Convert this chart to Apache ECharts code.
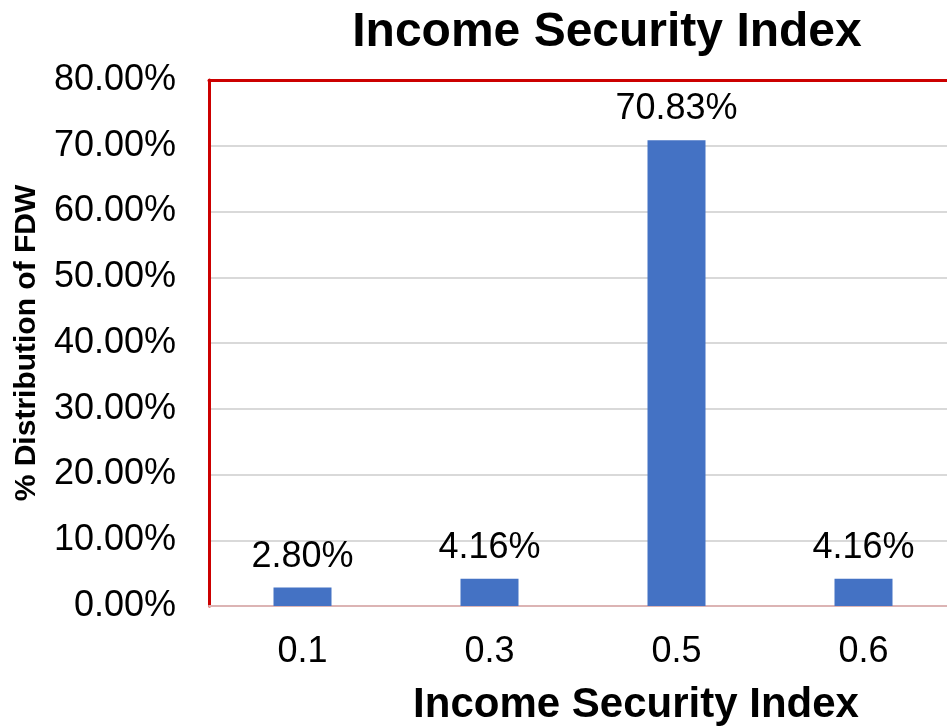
<!DOCTYPE html>
<html><head><meta charset="utf-8">
<script src="https://cdn.jsdelivr.net/npm/echarts@6/dist/echarts.min.js"></script>
<style>html,body{margin:0;padding:0;background:#fff;overflow:hidden}#c{width:947px;height:728px}</style>
</head><body><div id="c"></div>
<script>
const categories = ['0.1', '0.3', '0.5', '0.6'];
const values = [2.80, 4.16, 70.83, 4.16];
const yTicks = [0, 10, 20, 30, 40, 50, 60, 70, 80];

const chart = echarts.init(document.getElementById('c'));
const font = '"Liberation Sans", Arial, sans-serif';
chart.setOption({
  animation: false,
  backgroundColor: '#fff',
  title: {
    text: 'Income Security Index', left: 602, top: 4, textAlign: 'center',
    textStyle: { fontFamily: font, fontWeight: 'bold', fontSize: 48, color: '#000' }
  },
  grid: { left: 209, top: 80, right: -10, bottom: 122, outerBoundsMode: 'none', containLabel: false },
  xAxis: [{
    type: 'category', data: categories,
    name: 'Income Security Index', nameLocation: 'middle', nameGap: 78,
    nameTextStyle: { fontFamily: font, fontWeight: 'bold', fontSize: 42, color: '#000', padding: [0, 0, 0, 106] },
    axisLine: { show: true, lineStyle: { color: '#dcb4b4', width: 2 } },
    axisTick: { show: false },
    axisLabel: { fontFamily: font, fontSize: 36, color: '#000', margin: 28 },
  }, {
    type: 'category', data: categories, position: 'top',
    axisLine: { show: true, lineStyle: { color: '#cc0000', width: 3 } },
    axisTick: { show: false }, axisLabel: { show: false }
  }],
  yAxis: {
    type: 'value', min: yTicks[0], max: yTicks[yTicks.length - 1], interval: 10,
    name: '% Distribution of FDW', nameLocation: 'middle', nameGap: 167,
    nameTextStyle: { fontFamily: font, fontWeight: 'bold', fontSize: 30, color: '#000' },
    axisLine: { show: true, lineStyle: { color: '#cc0000', width: 3 } },
    axisTick: { show: false },
    axisLabel: { fontFamily: font, fontSize: 36, color: '#000', margin: 33,
      formatter: v => v.toFixed(2) + '%' },
    splitLine: { lineStyle: { color: '#d9d9d9', width: 2 } }
  },
  series: [{
    type: 'bar', data: values, barWidth: 58, xAxisIndex: 0,
    itemStyle: { color: '#4472c4' },
    label: { show: true, position: 'top', distance: 13, fontFamily: font, fontSize: 36, color: '#000',
      formatter: p => p.value.toFixed(2) + '%' }
  }]
});
</script></body></html>
